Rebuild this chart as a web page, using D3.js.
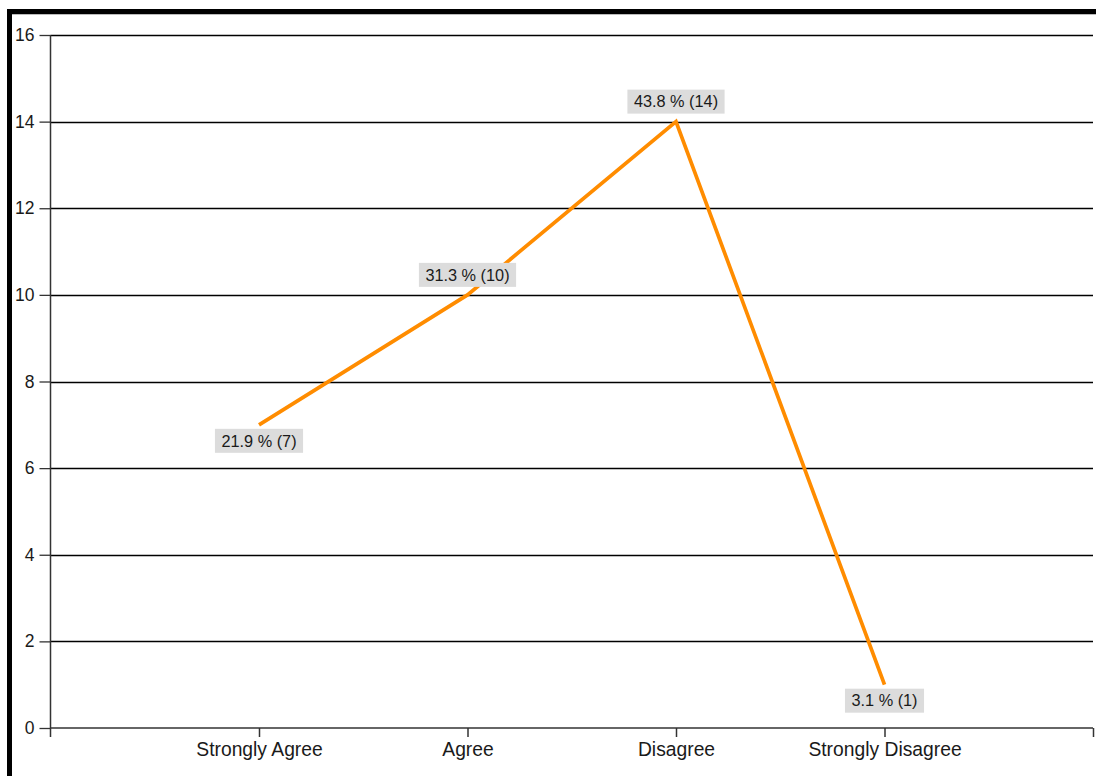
<!DOCTYPE html>
<html>
<head>
<meta charset="utf-8">
<script src="https://cdn.jsdelivr.net/npm/d3@7"></script>
<style>
  html, body { margin: 0; padding: 0; background: #fff; }
  svg { display: block; }
</style>
</head>
<body>
<svg id="chart" width="1096" height="776"></svg>
<script>
// Survey responses
const categories = ["Strongly Agree", "Agree", "Disagree", "Strongly Disagree"];
const counts = [7, 10, 14, 1];
const percents = [21.9, 31.3, 43.8, 3.1];
const yTicks = [0, 2, 4, 6, 8, 10, 12, 14, 16];

const W = 1096, H = 776;
const margin = { left: 50.5, right: 3, top: 35, bottom: 48 };
const svg = d3.select("#chart");
const font = "'Liberation Sans', Arial, sans-serif";

// Frame: thick black left and top edges
svg.append("rect").attr("x", 7).attr("y", 9).attr("width", W).attr("height", 5).attr("fill", "#000");
svg.append("rect").attr("x", 7).attr("y", 9).attr("width", 5).attr("height", H).attr("fill", "#000");
svg.append("line").attr("x1", 12).attr("x2", W).attr("y1", 14.5).attr("y2", 14.5)
  .attr("stroke", "#bbb").attr("stroke-width", 1);

const x0 = margin.left, x1 = W - margin.right;
const y0 = H - margin.bottom, y1 = margin.top;

// Slots 0..N+1; categories sit on the inner slots
const x = d3.scaleLinear().domain([0, categories.length + 1]).range([x0, x1]);
const y = d3.scaleLinear().domain([0, 16]).range([y0, y1]);

// Horizontal grid lines
svg.append("g").selectAll("line").data(yTicks.filter(d => d > 0)).join("line")
  .attr("x1", x0).attr("x2", x1)
  .attr("y1", d => Math.round(y(d)) + 0.5).attr("y2", d => Math.round(y(d)) + 0.5)
  .attr("stroke", "#000").attr("stroke-width", 1.3);

// Y axis
const yAxis = d3.axisLeft(y).tickValues(yTicks).tickSize(11).tickPadding(5);
const gy = svg.append("g").attr("transform", `translate(${x0},0)`).call(yAxis);
gy.select(".domain").attr("stroke", "#333").attr("stroke-width", 1.5)
  .attr("d", `M0,${y1}V${y0 + 9}`);
gy.selectAll(".tick line").attr("stroke", "#333").attr("stroke-width", 1.3);
gy.selectAll(".tick text").attr("fill", "#1a1a1a")
  .style("font-family", font).style("font-size", "17.5px");

// X axis
const xTickVals = d3.range(1, categories.length + 2);
const xAxis = d3.axisBottom(x).tickValues(xTickVals).tickSize(9).tickPadding(5)
  .tickFormat(d => categories[d - 1] || "");
const gx = svg.append("g").attr("transform", `translate(0,${y0})`).call(xAxis);
gx.select(".domain").attr("stroke", "#333").attr("stroke-width", 1.5)
  .attr("d", `M${x0},0H${x1}`);
gx.selectAll(".tick line").attr("stroke", "#333").attr("stroke-width", 1.5);
gx.selectAll(".tick text").attr("fill", "#1a1a1a")
  .style("font-family", font).style("font-size", "19.3px");

// Series line
const pts = counts.map((c, i) => ({ c, p: percents[i], i }));
const line = d3.line().x(d => x(d.i + 1)).y(d => y(d.c));
svg.append("path").datum(pts).attr("d", line)
  .attr("fill", "none").attr("stroke", "#ff8c00").attr("stroke-width", 3.7)
  .attr("stroke-linejoin", "miter");

// Value labels: below the point when its neighbours are all higher
const lbl = svg.append("g");
pts.forEach((d, i) => {
  const nb = [counts[i - 1], counts[i + 1]].filter(v => v !== undefined);
  const below = nb.every(v => v > d.c);
  const g = lbl.append("g");
  const t = g.append("text")
    .text(`${d.p.toFixed(1)} % (${d.c})`)
    .attr("text-anchor", "middle")
    .style("font-family", font).style("font-size", "16.3px")
    .attr("fill", "#1a1a1a");
  const bw = t.node().getComputedTextLength() + 13;
  const bh = 24;
  const cx = x(i + 1), cy = y(d.c);
  const top = below ? cy + 4 : cy - 8 - bh;
  g.insert("rect", "text").attr("x", cx - bw / 2).attr("y", top)
    .attr("width", bw).attr("height", bh).attr("fill", "#dcdcdc");
  t.attr("x", cx).attr("y", top + bh / 2 + 5.7);
});
</script>
</body>
</html>
